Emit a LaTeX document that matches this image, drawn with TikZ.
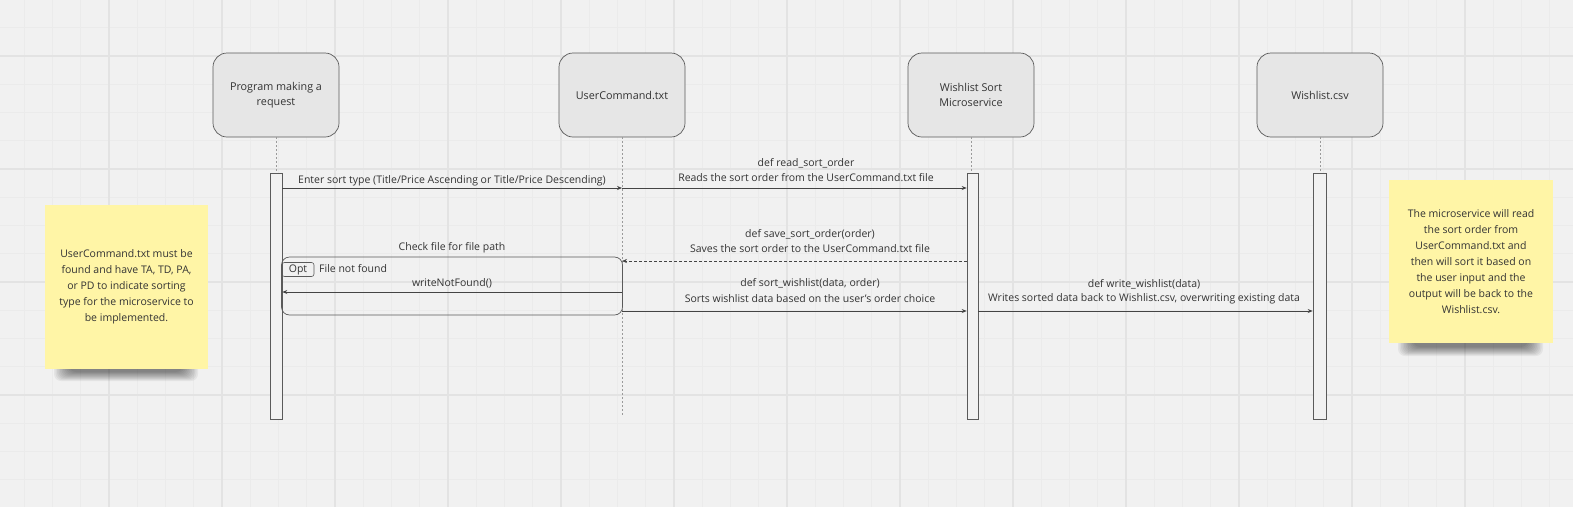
\documentclass[tikz,border=0pt]{standalone}
\usepackage{fontspec}
\setmainfont{Open Sans}
\usetikzlibrary{arrows.meta,calc}
\definecolor{bg}{HTML}{F1F1F1}
\definecolor{gridminor}{HTML}{EBEBEB}
\definecolor{gridmajor}{HTML}{E3E3E3}
\definecolor{partfill}{HTML}{E6E6E6}
\definecolor{edge}{HTML}{5A5A5A}
\definecolor{lifec}{HTML}{9A9A9A}
\definecolor{arrc}{HTML}{444444}
\definecolor{txt}{HTML}{333333}
\definecolor{notefill}{HTML}{FFF5A6}
\newcommand{\msgfont}{\fontsize{10.5}{14.5}\selectfont}
\newcommand{\partfont}{\fontsize{10.8}{15}\selectfont}
\newcommand{\notefont}{\fontsize{10.5}{16}\selectfont}
\begin{document}
\begin{tikzpicture}[x=1pt,y=-1pt,
  part/.style={draw=edge, fill=partfill, rounded corners=14pt, minimum width=126pt, minimum height=84pt, align=center, text=txt, font=\partfont, line width=0.7pt},
  barbox/.style={draw=edge, fill=bg, line width=0.6pt, inner sep=0pt, minimum height=246pt},
  life/.style={draw=lifec, dash pattern=on 2pt off 2pt, line width=0.8pt},
  msg/.style={draw=arrc, line width=0.7pt, -{Stealth[length=5pt,width=4pt]}},
  dmsg/.style={msg, dash pattern=on 3pt off 2pt},
  lbl/.style={text=txt, font=\msgfont, inner sep=0pt},
  note/.style={fill=notefill, text=txt, font=\notefont, align=center, inner sep=0pt},
  frame/.style={draw=edge, line width=0.7pt, rounded corners=8pt, inner sep=0pt}
]
\useasboundingbox (0,0) rectangle (1573,507);
\fill[bg] (0,0) rectangle (1573,507);
% grid
\foreach \x in {24.25,52.5,...,1573} \draw[gridminor, line width=0.7pt] (\x,0) -- (\x,507);
\foreach \y in {27.75,56,...,507} \draw[gridminor, line width=0.7pt] (0,\y) -- (1573,\y);
\foreach \x in {109,222,...,1573} \draw[gridmajor, line width=1.6pt] (\x,0) -- (\x,507);
\foreach \y in {56,169,...,507} \draw[gridmajor, line width=1.6pt] (0,\y) -- (1573,\y);

% participants
\node[part] (p1) at (276,95) {Program making a\\request};
\node[part] (p2) at (622,95) {UserCommand.txt};
\node[part] (p3) at (971,95) {Wishlist Sort\\Microservice};
\node[part] (p4) at (1320,95) {Wishlist.csv};

% activation bars
\node[barbox, minimum width=12pt] (b1) at (276,296) {};
\node[barbox, minimum width=11pt] (b3) at (972.5,296) {};
\node[barbox, minimum width=13pt] (b4) at (1319.5,296) {};
\coordinate (l2end) at (622,416);

% lifelines
\draw[life] (p1.south) -- (b1.north);
\draw[life] (p2.south) -- (l2end);
\draw[life] (p3.south) -- (p3.south |- b3.north);
\draw[life] (p4.south) -- (p4.south |- b4.north);

% message heights
\coordinate (m1) at (0,188);
\coordinate (m3) at (0,261);
\coordinate (m4) at (0,292);
\coordinate (m5) at (0,311);
\coordinate (m6) at (0,311);

% opt frame
\node[frame, minimum width=341pt, minimum height=58pt] (opt) at (452,286) {};
\node[draw=edge, line width=0.6pt, rounded corners=2.5pt, minimum width=32pt, minimum height=14pt, inner sep=0pt, text=txt, font=\msgfont] (optl) at (298,269.5) {Opt};
\node[lbl, anchor=west] (nf) at (319,269) {File not found};

% messages
\draw[msg] (b1.east |- m1) -- (l2end |- m1);
\node[lbl] (t1) at (452,181) {Enter sort type (Title/Price Ascending or Title/Price Descending)};

\draw[msg] (l2end |- m1) -- (b3.west |- m1);
\node[lbl] (t2a) at (806,163) {def read\_sort\_order};
\node[lbl] (t2b) at (806,178) {Reads the sort order from the UserCommand.txt file};

\draw[dmsg] (b3.west |- m3) -- (l2end |- m3);
\node[lbl] (t3a) at (810,234) {def save\_sort\_order(order)};
\node[lbl] (t3b) at (810,249) {Saves the sort order to the UserCommand.txt file};

\node[lbl] (t4) at (452,248) {Check file for file path};

\draw[msg] (l2end |- m4) -- (b1.east |- m4);
\node[lbl] (t5) at (452,283) {writeNotFound()};

\draw[msg] (l2end |- m5) -- (b3.west |- m5);
\node[lbl] (t6a) at (810,283) {def sort\_wishlist(data, order)};
\node[lbl] (t6b) at (810,299) {Sorts wishlist data based on the user's order choice};

\draw[msg] (b3.east |- m6) -- (b4.west |- m6);
\node[lbl] (t7a) at (1144,284) {def write\_wishlist(data)};
\node[lbl] (t7b) at (1144,299) {Writes sorted data back to Wishlist.csv, overwriting existing data};

% sticky note shadows
\foreach \k in {0,...,10} {
  \fill[black, opacity=0.05, rounded corners=7pt] (54+\k*1.5,345) rectangle (198-\k*1.5,381-\k*0.9);
  \fill[black, opacity=0.05, rounded corners=7pt] (1398+\k*1.5,320) rectangle (1543-\k*1.5,356-\k*0.9);
}
% sticky notes
\node[note, minimum width=163pt, minimum height=164pt] (n1) at (126.5,287) {UserCommand.txt must be\\found and have TA, TD, PA,\\or PD to indicate sorting\\type for the microservice to\\be implemented.};
\node[note, minimum width=164pt, minimum height=163pt] (n2) at (1471,261.5) {The microservice will read\\the sort order from\\UserCommand.txt and\\then will sort it based on\\the user input and the\\output will be back to the\\Wishlist.csv.};
\end{tikzpicture}
\end{document}
